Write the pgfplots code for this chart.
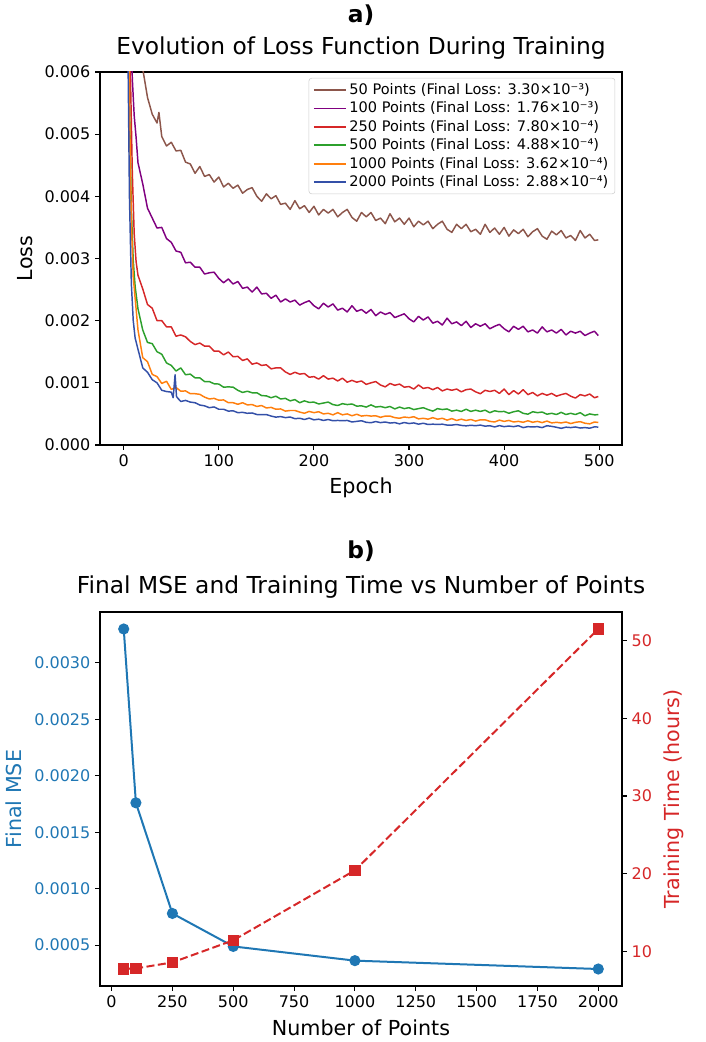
\documentclass[border=0pt]{standalone}
\usepackage{fontspec}
\setmainfont{DejaVu Sans}
\usepackage{pgfplots}
\pgfplotsset{compat=1.18}
\definecolor{cbrown}{HTML}{8C564B}
\definecolor{cpurple}{HTML}{800080}
\definecolor{cred}{HTML}{D62728}
\definecolor{cgreen}{HTML}{2CA02C}
\definecolor{corange}{HTML}{FF7F0E}
\definecolor{cblue}{HTML}{3450A8}
\definecolor{tabblue}{HTML}{1F77B4}
\definecolor{tabred}{HTML}{D62728}
\pgfplotsset{
  common/.style={
    scale only axis, width=391.5pt,
    tick align=outside, major tick length=3.7pt,
    axis line style={line width=0.8pt},
    major tick style={line width=0.8pt, black},
    ticklabel style={font=\fontsize{12}{14}\selectfont},
    /pgf/number format/assume math mode=true,
    /pgf/number format/1000 sep={},
    label style={font=\fontsize{15.5}{18}\selectfont},
  }
}
\begin{document}
\begin{tikzpicture}
\useasboundingbox (0,0) rectangle (529.5pt,781.5pt);
% ---------------- panel a ----------------
\begin{axis}[common,
  at={(75pt,447.75pt)}, anchor=south west, height=279.75pt,
  xmin=-24.95, xmax=523.95, ymin=0, ymax=6,
  xtick={0,100,...,500}, ytick={0,1,...,6},
  yticklabels={0.000,0.001,0.002,0.003,0.004,0.005,0.006},
  xtick pos=bottom, ytick pos=left,
  xlabel={Epoch}, ylabel={Loss},
  xlabel style={at={(axis description cs:0.5,-0.115)}, anchor=center},
  ylabel style={at={(axis description cs:-0.144,0.5)}, anchor=center},
  legend cell align=left,
  legend image code/.code={\draw[#1, line width=1.4pt] (0pt,0pt) -- (24pt,0pt);},
  legend style={at={(0.987,0.984)}, anchor=north east, draw=black!20,
    rounded corners=2pt, fill=white,
    font=\fontsize{10.9}{13}\selectfont, inner xsep=3pt, inner ysep=2pt},
  every axis plot/.append style={line width=1.1pt, line join=round},
]
\addplot[cbrown] coordinates {(0,30)(5,15)(10,9.8)(15,7.4)(18,6.4)(20,6.05)(25,5.59)(30,5.32)(35,5.18)(37,5.35)(40,4.96)(45,4.81)(50,4.87)(55,4.73)(60,4.74)(65,4.55)(70,4.52)(75,4.37)(80,4.48)(85,4.32)(90,4.35)(95,4.23)(100,4.31)(105,4.15)(110,4.21)(115,4.13)(120,4.18)(125,4.05)(130,4.11)(135,4.14)(140,4.00)(145,3.92)(150,4.04)(155,3.96)(160,4.01)(165,3.87)(170,3.89)(175,3.79)(180,3.93)(185,3.80)(190,3.85)(195,3.74)(200,3.84)(205,3.70)(210,3.79)(215,3.73)(220,3.79)(225,3.67)(230,3.74)(235,3.79)(240,3.66)(245,3.60)(250,3.74)(255,3.67)(260,3.74)(265,3.61)(270,3.65)(275,3.56)(280,3.72)(285,3.59)(290,3.65)(295,3.55)(300,3.65)(305,3.51)(310,3.60)(315,3.54)(320,3.60)(325,3.48)(330,3.55)(335,3.60)(340,3.47)(345,3.42)(350,3.55)(355,3.48)(360,3.55)(365,3.43)(370,3.47)(375,3.39)(380,3.55)(385,3.42)(390,3.49)(395,3.39)(400,3.50)(405,3.36)(410,3.46)(415,3.40)(420,3.47)(425,3.35)(430,3.43)(435,3.48)(440,3.36)(445,3.31)(450,3.44)(455,3.38)(460,3.45)(465,3.33)(470,3.37)(475,3.29)(480,3.45)(485,3.33)(490,3.39)(495,3.29)(499,3.30)};
\addlegendentry{50 Points (Final Loss: 3.30×10⁻³)}
\addplot[cpurple] coordinates {(0,40)(4,14)(7,7.5)(9,5.9)(11,5.3)(13,4.95)(15,4.54)(20,4.20)(25,3.81)(30,3.65)(35,3.49)(40,3.50)(45,3.32)(50,3.26)(55,3.12)(60,3.10)(65,2.93)(70,2.94)(75,2.86)(80,2.86)(85,2.75)(90,2.77)(95,2.78)(100,2.68)(105,2.61)(110,2.67)(115,2.59)(120,2.63)(125,2.52)(130,2.54)(135,2.46)(140,2.54)(145,2.43)(150,2.44)(155,2.36)(160,2.41)(165,2.30)(170,2.35)(175,2.30)(180,2.33)(185,2.25)(190,2.29)(195,2.32)(200,2.24)(205,2.19)(210,2.28)(215,2.22)(220,2.27)(225,2.17)(230,2.20)(235,2.14)(240,2.24)(245,2.15)(250,2.18)(255,2.12)(260,2.18)(265,2.08)(270,2.14)(275,2.10)(280,2.13)(285,2.05)(290,2.08)(295,2.11)(300,2.03)(305,1.98)(310,2.07)(315,2.01)(320,2.06)(325,1.96)(330,1.99)(335,1.93)(340,2.04)(345,1.95)(350,1.98)(355,1.92)(360,1.99)(365,1.89)(370,1.95)(375,1.91)(380,1.95)(385,1.87)(390,1.91)(395,1.94)(400,1.87)(405,1.82)(410,1.91)(415,1.86)(420,1.91)(425,1.82)(430,1.85)(435,1.80)(440,1.90)(445,1.82)(450,1.85)(455,1.80)(460,1.86)(465,1.77)(470,1.83)(475,1.80)(480,1.83)(485,1.76)(490,1.80)(495,1.83)(499,1.76)};
\addlegendentry{100 Points (Final Loss: 1.76×10⁻³)}
\addplot[cred] coordinates {(0,45)(3,14)(5,9)(7,6.0)(9,4.4)(11,3.4)(13,2.95)(15,2.73)(20,2.51)(25,2.26)(30,2.20)(35,2.00)(40,2.00)(45,1.90)(50,1.90)(55,1.75)(60,1.77)(65,1.74)(70,1.665)(75,1.615)(80,1.64)(85,1.59)(90,1.59)(95,1.51)(100,1.51)(105,1.45)(110,1.495)(115,1.42)(120,1.425)(125,1.36)(130,1.385)(135,1.30)(140,1.32)(145,1.28)(150,1.29)(155,1.225)(160,1.24)(165,1.24)(170,1.175)(175,1.135)(180,1.17)(185,1.14)(190,1.15)(195,1.09)(200,1.10)(205,1.06)(210,1.115)(215,1.06)(220,1.075)(225,1.03)(230,1.075)(235,1.01)(240,1.04)(245,1.01)(250,1.03)(255,0.975)(260,1.00)(265,1.02)(270,0.965)(275,0.935)(280,0.99)(285,0.96)(290,0.98)(295,0.93)(300,0.94)(305,0.90)(310,0.965)(315,0.91)(320,0.925)(325,0.89)(330,0.925)(335,0.87)(340,0.90)(345,0.88)(350,0.90)(355,0.855)(360,0.89)(365,0.90)(370,0.855)(375,0.825)(380,0.88)(385,0.86)(390,0.88)(395,0.83)(400,0.90)(405,0.81)(410,0.875)(415,0.82)(420,0.89)(425,0.81)(430,0.845)(435,0.79)(440,0.83)(445,0.80)(450,0.83)(455,0.785)(460,0.81)(465,0.83)(470,0.785)(475,0.755)(480,0.81)(485,0.79)(490,0.82)(495,0.76)(499,0.78)};
\addlegendentry{250 Points (Final Loss: 7.80×10⁻⁴)}
\addplot[cgreen] coordinates {(0,50)(2,16)(4,8.5)(6,5.5)(8,3.8)(10,2.97)(12,2.55)(15,2.19)(20,1.85)(25,1.65)(30,1.63)(35,1.50)(40,1.46)(45,1.32)(50,1.28)(55,1.19)(60,1.24)(65,1.13)(70,1.14)(75,1.08)(80,1.08)(85,1.02)(90,1.02)(95,0.985)(100,0.98)(105,0.93)(110,0.935)(115,0.93)(120,0.88)(125,0.845)(130,0.865)(135,0.84)(140,0.84)(145,0.795)(150,0.79)(155,0.76)(160,0.785)(165,0.74)(170,0.75)(175,0.71)(180,0.73)(185,0.68)(190,0.71)(195,0.685)(200,0.69)(205,0.66)(210,0.675)(215,0.69)(220,0.65)(225,0.635)(230,0.665)(235,0.65)(240,0.66)(245,0.625)(250,0.63)(255,0.61)(260,0.645)(265,0.61)(270,0.62)(275,0.60)(280,0.62)(285,0.58)(290,0.61)(295,0.585)(300,0.60)(305,0.57)(310,0.585)(315,0.60)(320,0.57)(325,0.545)(330,0.585)(335,0.57)(340,0.58)(345,0.545)(350,0.56)(355,0.54)(360,0.575)(365,0.54)(370,0.56)(375,0.54)(380,0.56)(385,0.52)(390,0.55)(395,0.535)(400,0.54)(405,0.51)(410,0.535)(415,0.55)(420,0.51)(425,0.495)(430,0.535)(435,0.52)(440,0.53)(445,0.495)(450,0.51)(455,0.49)(460,0.525)(465,0.49)(470,0.51)(475,0.49)(480,0.52)(485,0.47)(490,0.50)(495,0.485)(499,0.488)};
\addlegendentry{500 Points (Final Loss: 4.88×10⁻⁴)}
\addplot[corange] coordinates {(0,50)(2,18)(4,9)(6,5.5)(8,3.6)(10,2.7)(12,2.36)(15,1.85)(20,1.405)(25,1.34)(30,1.135)(35,1.10)(40,0.99)(45,1.025)(50,0.895)(55,0.925)(60,0.865)(65,0.87)(70,0.825)(75,0.825)(80,0.815)(85,0.77)(90,0.74)(95,0.75)(100,0.72)(105,0.725)(110,0.68)(115,0.68)(120,0.655)(125,0.68)(130,0.645)(135,0.65)(140,0.62)(145,0.635)(150,0.595)(155,0.605)(160,0.575)(165,0.58)(170,0.545)(175,0.555)(180,0.555)(185,0.53)(190,0.51)(195,0.54)(200,0.52)(205,0.535)(210,0.50)(215,0.51)(220,0.485)(225,0.52)(230,0.485)(235,0.50)(240,0.47)(245,0.495)(250,0.465)(255,0.475)(260,0.465)(265,0.47)(270,0.445)(275,0.465)(280,0.465)(285,0.44)(290,0.43)(295,0.45)(300,0.44)(305,0.455)(310,0.42)(315,0.43)(320,0.415)(325,0.44)(330,0.415)(335,0.43)(340,0.40)(345,0.425)(350,0.395)(355,0.415)(360,0.395)(365,0.41)(370,0.385)(375,0.405)(380,0.405)(385,0.38)(390,0.37)(395,0.40)(400,0.38)(405,0.395)(410,0.37)(415,0.38)(420,0.365)(425,0.39)(430,0.365)(435,0.38)(440,0.36)(445,0.385)(450,0.355)(455,0.365)(460,0.355)(465,0.37)(470,0.345)(475,0.365)(480,0.375)(485,0.35)(490,0.34)(495,0.37)(499,0.362)};
\addlegendentry{1000 Points (Final Loss: 3.62×10⁻⁴)}
\addplot[cblue] coordinates {(0,50)(2,15)(4,7)(6,4)(8,2.6)(10,2.0)(12,1.72)(15,1.54)(20,1.24)(25,1.17)(30,1.05)(35,1.00)(40,0.88)(45,0.86)(50,0.85)(52,0.76)(54,1.13)(55.5,0.78)(57,0.75)(60,0.70)(65,0.717)(70,0.69)(75,0.68)(80,0.643)(85,0.63)(90,0.60)(95,0.612)(100,0.575)(105,0.575)(110,0.545)(115,0.55)(120,0.52)(125,0.525)(130,0.51)(135,0.515)(140,0.49)(145,0.49)(150,0.49)(155,0.465)(160,0.448)(165,0.457)(170,0.44)(175,0.45)(180,0.423)(185,0.43)(190,0.41)(195,0.432)(200,0.405)(205,0.415)(210,0.395)(215,0.41)(220,0.39)(225,0.395)(230,0.39)(235,0.395)(240,0.37)(245,0.38)(250,0.39)(255,0.365)(260,0.358)(265,0.377)(270,0.36)(275,0.37)(280,0.353)(285,0.36)(290,0.34)(295,0.362)(300,0.345)(305,0.355)(310,0.335)(315,0.35)(320,0.33)(325,0.335)(330,0.33)(335,0.335)(340,0.32)(345,0.32)(350,0.33)(355,0.315)(360,0.308)(365,0.317)(370,0.31)(375,0.32)(380,0.303)(385,0.31)(390,0.29)(395,0.312)(400,0.295)(405,0.305)(410,0.295)(415,0.31)(420,0.28)(425,0.295)(430,0.29)(435,0.295)(440,0.28)(445,0.31)(450,0.30)(455,0.285)(460,0.268)(465,0.287)(470,0.28)(475,0.29)(480,0.273)(485,0.28)(490,0.27)(495,0.292)(499,0.288)};
\addlegendentry{2000 Points (Final Loss: 2.88×10⁻⁴)}
\end{axis}
% ---------------- panel b ----------------
\begin{axis}[common,
  at={(75pt,42pt)}, anchor=south west, height=280.5pt,
  xmin=-47.5, xmax=2097.5, ymin=0.1374, ymax=3.4506,
  xtick={0,250,...,2000}, ytick={0.5,1,1.5,2,2.5,3},
  yticklabels={0.0005,0.0010,0.0015,0.0020,0.0025,0.0030},
  xtick pos=bottom, ytick pos=left,
  y tick label style={text=tabblue},
  xlabel={Number of Points}, ylabel={Final MSE},
  xlabel style={at={(axis description cs:0.5,-0.112)}, anchor=center},
  ylabel style={at={(axis description cs:-0.166,0.5)}, anchor=center, text=tabblue},
]
\addplot[tabblue, line width=1.5pt, mark=*, mark size=3.4pt, mark options={solid}] coordinates {(50,3.30)(100,1.76)(250,0.780)(500,0.488)(1000,0.362)(2000,0.288)};
\end{axis}
\begin{axis}[common,
  at={(75pt,42pt)}, anchor=south west, height=280.5pt,
  xmin=-47.5, xmax=2097.5, ymin=5.54, ymax=53.69,
  axis y line*=right, axis x line=none,
  ytick={10,20,...,50},
  y tick label style={text=tabred},
  ylabel={Training Time (hours)},
  ylabel style={at={(axis description cs:1.10,0.5)}, anchor=center, text=tabred},
]
\addplot[tabred, line width=1.5pt, dash pattern=on 6pt off 2.6pt, mark=square*, mark size=3.5pt, mark options={solid}] coordinates {(50,7.73)(100,7.80)(250,8.58)(500,11.42)(1000,20.43)(2000,51.5)};
\end{axis}
% ---------------- titles ----------------
\node[anchor=base, font=\fontsize{17.5}{20}\selectfont\bfseries] at (270.75pt,764.25pt) {a)};
\node[anchor=base, font=\fontsize{17.5}{20}\selectfont] at (270.75pt,740.25pt) {Evolution of Loss Function During Training};
\node[anchor=base, font=\fontsize{17.5}{20}\selectfont\bfseries] at (270.75pt,362.5pt) {b)};
\node[anchor=base, font=\fontsize{17.5}{20}\selectfont] at (270.75pt,336.5pt) {Final MSE and Training Time vs Number of Points};
\end{tikzpicture}
\end{document}
